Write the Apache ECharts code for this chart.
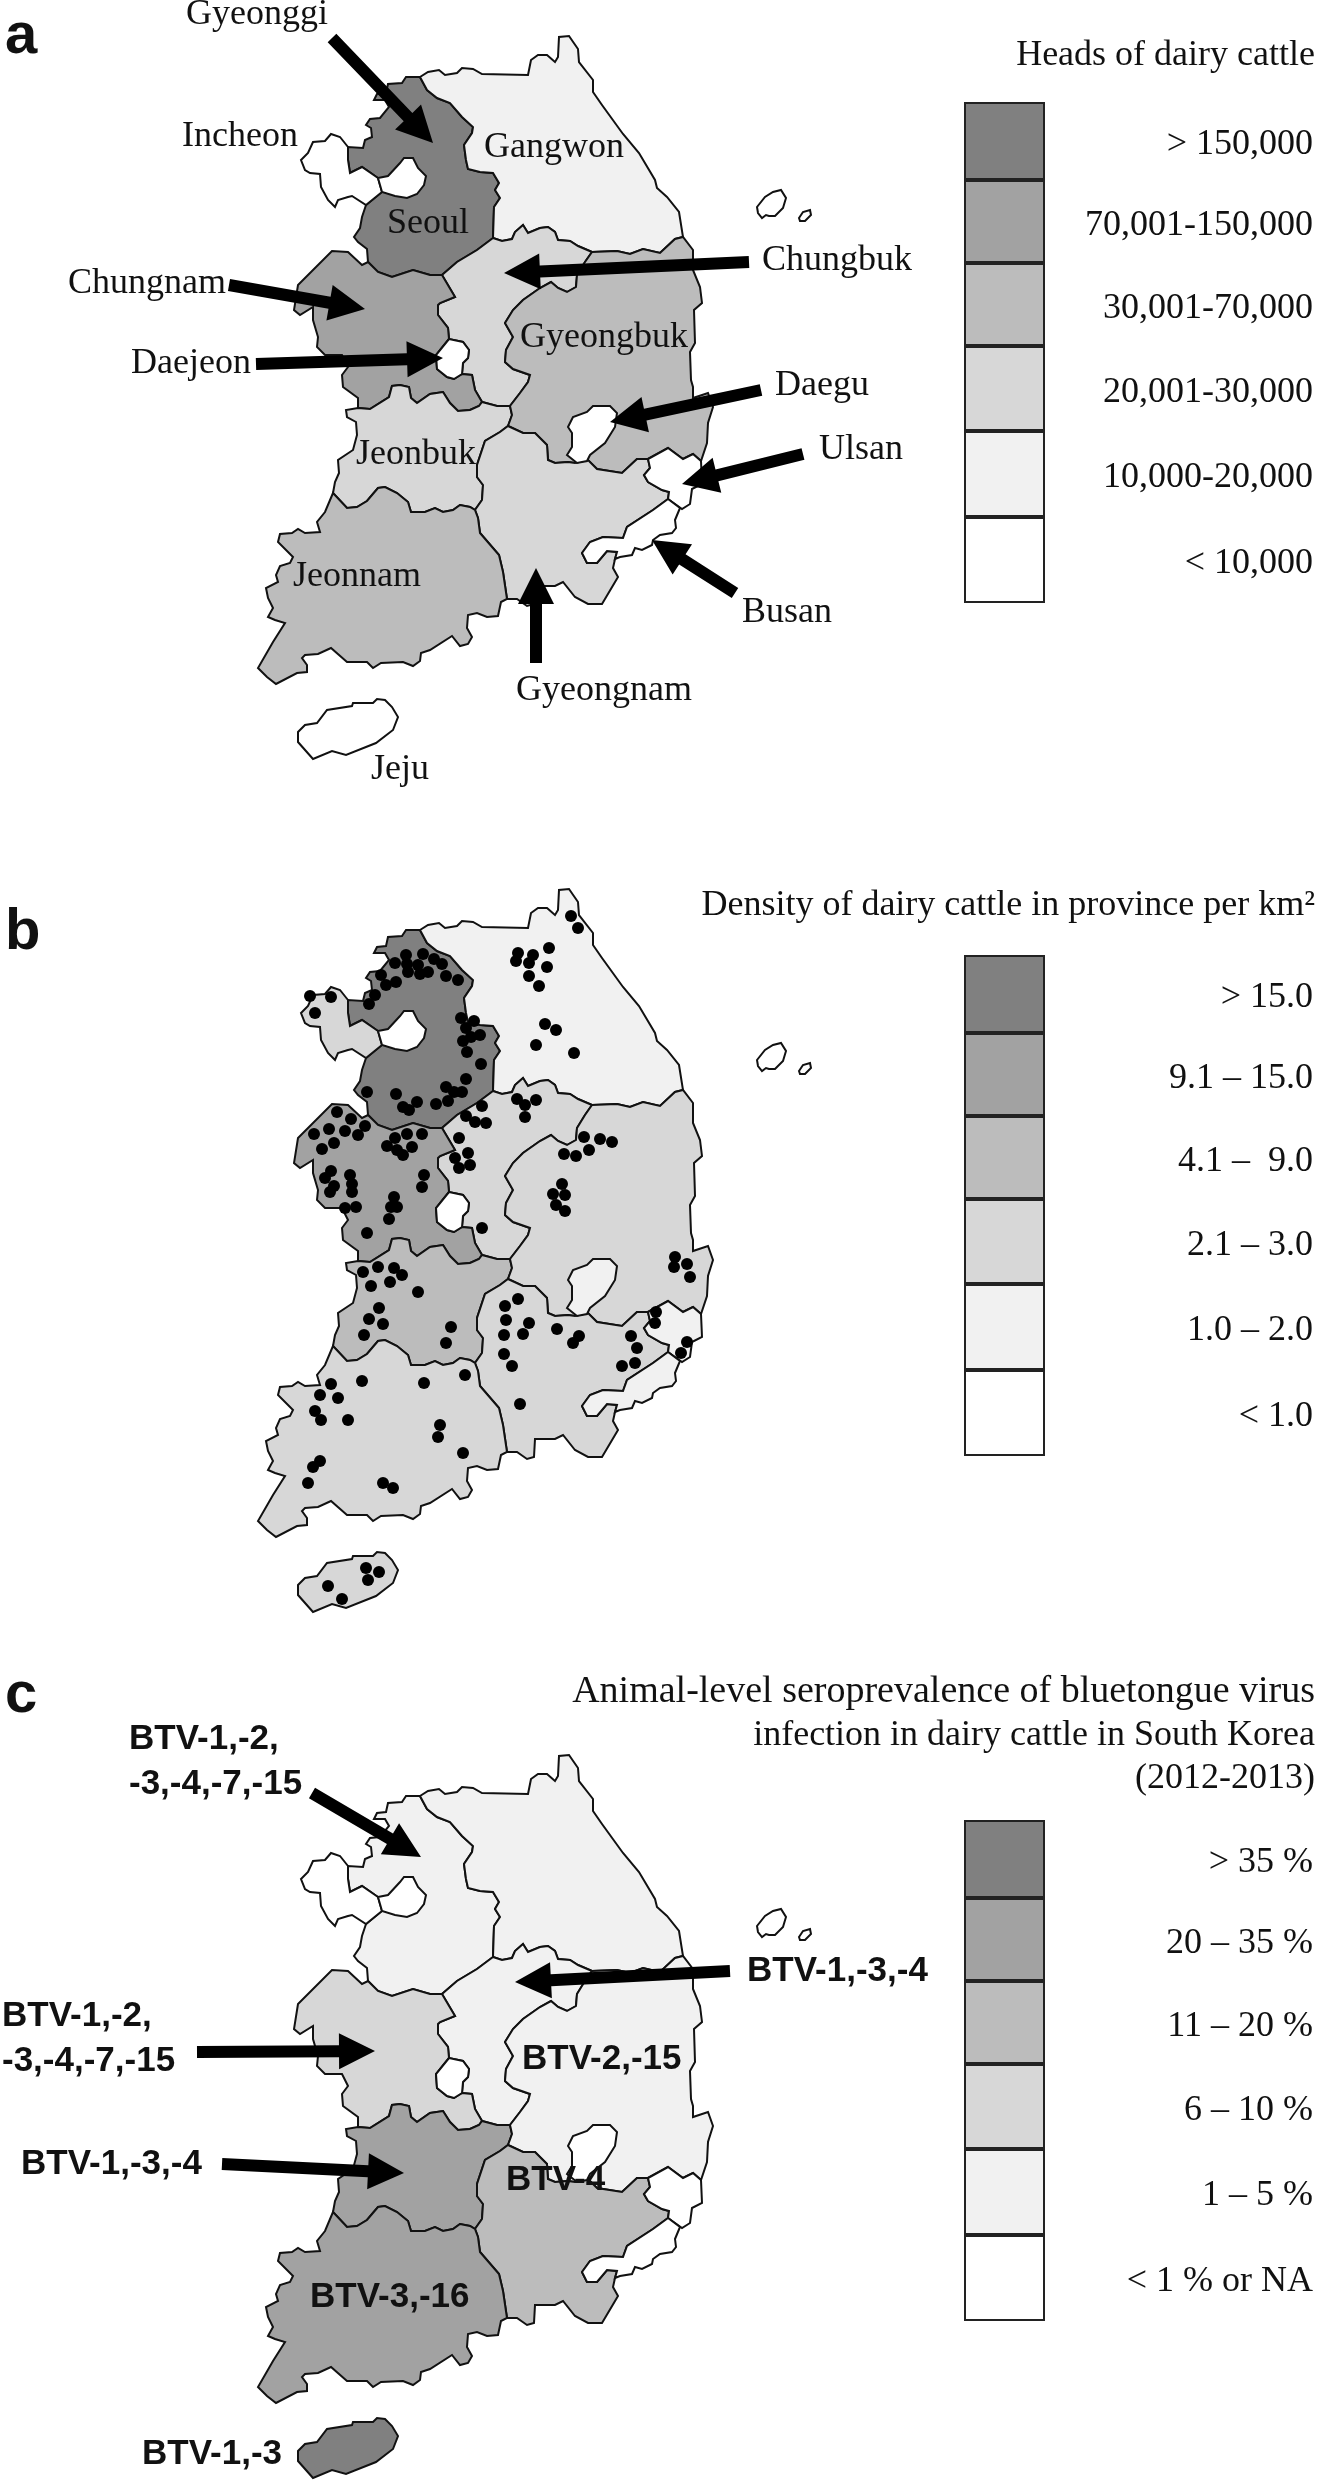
<!DOCTYPE html>
<html><head><meta charset="utf-8">
<script src="https://cdn.jsdelivr.net/npm/echarts@6/dist/echarts.min.js"></script>
<style>html,body{margin:0;padding:0;background:#fff}#c{width:1319px;height:2481px}</style>
</head><body><div id="c"></div>
<script>
// ---------- shared borders of the provinces, in map units (y grows southward) ----------
const ggGw=[[420,77],[427,90],[437,98],[450,103],[462,117],[473,127],[472,133],[464,145],[466,160],[468,169],[480,172],[493,173],[499,183],[495,190],[500,198],[494,207],[493,238]];
const ggCb=[[493,238],[477,250],[457,262],[442,275]];
const ggCn=[[442,275],[430,275],[413,270],[392,277],[378,272],[368,262]];
const ggCoast=[[368,262],[367,249],[358,242],[354,237],[360,228],[362,217],[366,205]];
const ggIc=[[366,205],[382,192],[378,178],[362,167],[350,173],[348,160],[348,147]];
const ggNorth=[[348,147],[363,148],[365,140],[372,137],[371,128],[366,125],[370,119],[380,118],[389,107],[385,100],[374,100],[377,94],[386,93],[388,84],[402,83],[406,77],[420,77]];
const seoulRing=[[378,178],[388,176],[400,163],[404,158],[413,158],[418,168],[426,176],[424,185],[417,194],[407,198],[395,196],[382,192]];
const icCoast=[[348,147],[340,137],[331,134],[325,141],[313,142],[308,153],[301,160],[305,170],[310,173],[320,174],[321,187],[328,200],[335,207],[338,200],[348,197],[352,196],[366,205]];
const gangwonCoast=[[420,77],[428,72],[439,70],[445,75],[457,73],[462,68],[473,69],[482,74],[528,75],[531,60],[538,55],[547,55],[555,62],[558,57],[559,37],[569,36],[578,49],[579,62],[593,80],[593,92],[602,105],[623,134],[639,153],[655,180],[657,188],[667,197],[679,212],[683,237]];
const gwGb=[[683,237],[675,239],[660,253],[643,249],[630,254],[617,251],[592,252]];
const gwCb=[[592,252],[578,246],[570,241],[558,240],[555,232],[548,227],[540,228],[528,233],[523,225],[515,232],[512,239],[502,241],[493,238]];
const cbGb=[[592,252],[585,262],[577,275],[576,287],[567,292],[558,288],[551,282],[540,288],[523,300],[513,310],[505,323],[513,337],[506,350],[505,362],[513,369],[530,375],[528,382],[520,393],[510,406]];
const cbSouth=[[510,406],[497,406],[482,402],[475,390],[472,375],[462,374]];
const djE=[[462,374],[463,363],[468,358],[469,350],[463,342],[449,339]];
const djW=[[449,339],[436,355],[437,369],[447,377],[454,379],[462,374]];
const cbCn=[[449,339],[448,328],[438,315],[438,305],[440,303],[455,297],[442,275]];
const cnJb=[[482,402],[479,406],[470,410],[458,411],[450,403],[443,392],[430,394],[417,403],[411,398],[409,387],[400,385],[392,386],[389,397],[370,409],[358,408]];
const cnCoast=[[358,408],[358,398],[343,387],[342,375],[348,367],[342,355],[325,355],[317,347],[318,337],[313,320],[313,307],[300,315],[294,310],[298,285],[332,251],[348,252],[362,265],[368,262]];
const jbGn=[[508,426],[500,432],[485,441],[477,465],[477,477],[483,485],[482,500],[475,510]];
const jbJn=[[475,510],[470,507],[460,505],[453,510],[443,512],[435,508],[425,512],[411,512],[408,502],[397,493],[385,487],[378,488],[367,501],[357,507],[347,508],[333,493]];
const jbCoast=[[333,493],[335,482],[339,473],[338,460],[353,450],[357,435],[356,422],[347,417],[346,410],[358,408]];
const jnCoast=[[333,493],[325,512],[317,522],[320,532],[305,533],[298,529],[292,533],[280,534],[278,542],[293,557],[290,563],[280,566],[276,575],[278,582],[266,588],[268,598],[273,608],[268,617],[275,620],[285,623],[273,642],[258,668],[267,677],[276,684],[297,673],[307,672],[307,665],[302,658],[305,655],[318,654],[331,648],[347,662],[367,662],[373,668],[381,663],[403,662],[413,666],[420,661],[421,653],[430,650],[452,636],[460,646],[468,644],[472,637],[467,628],[468,615],[477,613],[487,617],[498,616],[501,602],[507,599]];
const jnGn=[[507,599],[503,572],[499,555],[480,533],[478,518],[475,510]];
const gnNorth=[[508,426],[523,433],[535,433],[547,445],[548,460],[555,463],[568,462],[575,463],[588,460],[597,469],[622,473],[637,459],[648,459]];
const ulGn=[[648,459],[650,468],[644,475],[648,482],[662,490],[669,492],[668,499]];
const gnBusan=[[668,499],[653,510],[627,527],[623,538],[603,537],[590,542],[582,553],[587,563],[597,563],[607,551],[617,552],[615,559]];
const gnCoast=[[615,559],[613,568],[618,577],[602,604],[588,604],[575,597],[563,582],[555,586],[535,586],[534,604],[527,606],[517,599],[507,599]];
const busanCoast=[[615,559],[620,557],[632,555],[635,548],[642,550],[652,545],[653,540],[660,535],[672,533],[676,528],[675,520],[680,508],[668,499]];
const ulEast=[[648,459],[668,448],[683,459],[693,454],[701,461],[702,484],[692,489],[690,504],[682,509],[668,499]];
const gbCoast=[[683,237],[693,250],[693,270],[700,287],[702,303],[694,310],[695,343],[690,352],[691,380],[693,387],[693,398],[708,393],[713,407],[708,423],[707,443],[701,461]];
const daeguRing=[[568,427],[573,417],[587,412],[593,406],[610,406],[617,413],[615,427],[605,443],[590,455],[587,461],[577,463],[567,455],[572,447],[572,433]];
const jejuRing=[[298,732],[298,742],[313,759],[332,751],[346,755],[376,743],[393,730],[398,717],[392,707],[385,700],[377,699],[373,703],[353,703],[352,706],[327,710],[317,723],[305,725]];
const ulleungRing=[[757,207],[765,197],[773,192],[781,190],[786,198],[783,208],[775,216],[769,216],[766,215],[762,218],[758,213]];
const dokdoRing=[[799,218],[803,212],[810,210],[811,215],[805,221],[800,221]];

const rev=a=>a.slice().reverse();
const regionNames=['Gyeonggi','Incheon','Gangwon','Chungbuk','Chungnam','Jeonbuk','Gyeongbuk','Gyeongnam','Jeonnam','Jeju','Seoul','Daejeon','Daegu','Ulsan','Busan','Ulleung','Dokdo'];
const regionRings=[
 [...ggGw,...ggCb,...ggCn,...ggCoast,...ggIc,...ggNorth],
 [...icCoast,...ggIc],
 [...gangwonCoast,...gwGb,...gwCb,...rev(ggGw)],
 [...rev(gwCb),...cbGb,...cbSouth,...djE,...cbCn,...rev(ggCb)],
 [...rev(ggCn),...rev(cbCn),...djW,[472,375],[475,390],[482,402],...cnJb,...cnCoast],
 [...rev(cnJb),[497,406],[510,406],[512,415],[508,426],...jbGn,...jbJn,...jbCoast],
 [...rev(gwGb),...gbCoast,[693,454],[683,459],[668,448],...rev(gnNorth),[512,415],...rev(cbGb)],
 [...gnNorth,...ulGn,...gnBusan,...gnCoast,...jnGn,...rev(jbGn)],
 [...jnCoast,...jnGn,...jbJn],
 jejuRing,seoulRing,[...djW,...djE],daeguRing,[...ulEast,...rev(ulGn)],[...gnBusan,...busanCoast],ulleungRing,dokdoRing
];
// ---------- shading class of each province (0 = lightest row of the key … 5 = darkest) ----------
const headsClass  =[5,0,1,2,4,2,3,2,3,0,0,0,0,0,0,0,0];
const densityClass=[5,2,1,2,4,3,2,2,2,2,0,0,1,1,1,0,0];
const seroClass   =[1,0,1,1,2,4,1,3,4,5,0,0,0,0,0,0,0];
const greys=['#ffffff','#f1f1f1','#d7d7d7','#bcbcbc','#a2a2a2','#808080'];

// ---------- key ----------
const keyRowHeights=[78,83,83,85,86,86];
const headsKey=['> 150,000','70,001-150,000','30,001-70,000','20,001-30,000','10,000-20,000','< 10,000'];
const densityKey=['> 15.0','9.1 – 15.0','4.1 –  9.0','2.1 – 3.0','1.0 – 2.0','< 1.0'];
const seroKey=['> 35 %','20 – 35 %','11 – 20 %','6 – 10 %','1 – 5 %','< 1 % or NA'];
const panelOffsets=[0,853,1719];
const keyOffsets=[0,853,1718];

// ---------- farms (dots of panel b) ----------
const farms=[[571,63],[578,75],[549,95],[518,100],[533,102],[516,108],[529,110],[547,114],[529,123],[539,133],[545,171],[556,177],[536,192],[574,200],
[406,102],[423,101],[434,106],[395,110],[407,111],[418,112],[442,111],[408,119],[420,121],[428,119],[381,122],[446,123],[458,127],[396,129],[386,132],[375,142],[369,151],[461,165],[474,168],[466,175],[480,182],[471,184],[463,188],[467,199],[481,211],[466,226],[446,234],[454,239],[462,239],[396,241],[367,239],[448,248],[417,249],[436,251],[403,254],[409,257],
[310,143],[331,144],[315,160],
[482,253],[517,246],[536,247],[525,252],[525,264],[466,263],[475,269],[486,270],[459,285],[468,300],[455,305],[470,312],[459,315],[482,375],
[584,284],[600,286],[612,289],[589,297],[564,301],[576,303],[562,331],[553,341],[565,342],[556,352],[565,358],
[337,259],[351,266],[365,273],[329,276],[345,278],[358,282],[314,281],[334,290],[322,296],[395,285],[407,281],[422,281],[387,293],[412,294],[397,297],[403,302],[331,318],[325,325],[350,322],[334,333],[330,339],[352,331],[352,339],[424,322],[422,334],[394,344],[391,354],[397,354],[345,355],[356,354],[389,366],[367,380],
[363,419],[378,414],[394,415],[402,422],[371,433],[390,429],[418,439],[379,455],[369,466],[383,471],[364,482],[451,474],[446,490],
[331,531],[362,528],[424,530],[465,522],[320,542],[338,545],[315,558],[321,567],[348,567],[440,572],[438,584],[463,600],[320,608],[313,614],[308,630],[383,630],[393,635],
[518,446],[505,453],[506,467],[529,470],[504,482],[523,481],[557,476],[579,483],[573,490],[504,501],[512,513],[520,551],[631,483],[637,495],[635,510],[622,513],
[675,404],[674,414],[687,411],[690,424],[656,459],[655,470],[687,489],[681,500],
[366,715],[379,719],[368,727],[328,733],[342,746]];

// ---------- arrows: from tail to tip, map units ----------
const arrowsA=[[332,38,433,143],[749,262,504,273],[229,285,365,309],[256,364,443,358],[761,390,610,422],[803,454,682,484],[735,593,652,540],[536,663,536,568]];
const arrowsC=[[312,74,421,138],[197,333,375,332],[222,445,404,454],[730,252,515,263]];

// ---------- texts ----------
const serifLabels=[
['Gyeonggi',186,15,'left',36],['Incheon',182,137,'left',36],['Gangwon',484,148,'left',36],['Seoul',387,224,'left',36],['Chungnam',68,284,'left',36],['Chungbuk',762,261,'left',36],['Gyeongbuk',520,338,'left',36],['Daejeon',131,364,'left',36],['Daegu',775,386,'left',36],['Ulsan',819,450,'left',36],['Jeonbuk',356,455,'left',36],['Busan',742,613,'left',36],['Jeonnam',293,577,'left',36],['Gyeongnam',516,691,'left',36],['Jeju',371,770,'left',36],
['Heads of dairy cattle',1315,56,'right',36],['Density of dairy cattle in province per km²',1315,906,'right',36],
['Animal-level seroprevalence of bluetongue virus',1315,1692,'right',38],['infection in dairy cattle in South Korea',1315,1736,'right',36],['(2012-2013)',1315,1779,'right',36]];
const boldLabels=[['BTV-1,-2,',129,1739],['-3,-4,-7,-15',129,1784],['BTV-1,-2,',2,2016],['-3,-4,-7,-15',2,2061],['BTV-1,-3,-4',21,2164],['BTV-3,-16',310,2297],['BTV-1,-3',142,2454],['BTV-1,-3,-4',747,1971],['BTV-2,-15',522,2059],['BTV-4',506,2180]];
const panelLetters=[['a',5,37],['b',5,933],['c',5,1696]];

// ---------- build ----------
const flip=([x,y])=>[x,-y];
echarts.registerMap('korea',{type:'FeatureCollection',features:regionNames.map((name,i)=>({type:'Feature',properties:{name},geometry:{type:'Polygon',coordinates:[regionRings[i].map(flip)]}}))});
const allPts=regionRings.flat();
const minX=Math.min(...allPts.map(p=>p[0])),maxX=Math.max(...allPts.map(p=>p[0])),minY=Math.min(...allPts.map(p=>p[1])),maxY=Math.max(...allPts.map(p=>p[1]));

const geo=panelOffsets.map(off=>({map:'korea',roam:false,silent:true,aspectScale:1,left:minX,top:minY+off,width:maxX-minX,height:maxY-minY,
  itemStyle:{areaColor:'#fff',borderColor:'#111',borderWidth:2},label:{show:false},emphasis:{disabled:true},select:{disabled:true}}));

function arrowItem(params,api){
  const a=api.coord([api.value(0),api.value(1)]),b=api.coord([api.value(2),api.value(3)]);
  const dx=b[0]-a[0],dy=b[1]-a[1],len=Math.hypot(dx,dy),ux=dx/len,uy=dy/len,nx=-uy,ny=ux;
  const sh=6,hw=18,hl=36,bx=b[0]-ux*hl,by=b[1]-uy*hl;
  return {type:'polygon',shape:{points:[[a[0]+nx*sh,a[1]+ny*sh],[bx+nx*sh,by+ny*sh],[bx+nx*hw,by+ny*hw],b,[bx-nx*hw,by-ny*hw],[bx-nx*sh,by-ny*sh],[a[0]-nx*sh,a[1]-ny*sh]]},style:{fill:'#000'}};
}
const series=[],visualMap=[];
const classes=[headsClass,densityClass,seroClass];
classes.forEach((cls,i)=>{
  visualMap.push({type:'piecewise',show:false,seriesIndex:series.length,pieces:greys.map((color,v)=>({value:v,color}))});
  series.push({type:'map',geoIndex:i,silent:true,data:regionNames.map((name,k)=>({name,value:cls[k]}))});
});
series.push({type:'scatter',coordinateSystem:'geo',geoIndex:1,symbolSize:12,itemStyle:{color:'#000',opacity:1},silent:true,z:5,data:farms.map(flip)});
[[0,arrowsA],[2,arrowsC]].forEach(([g,arr])=>series.push({type:'custom',coordinateSystem:'geo',geoIndex:g,silent:true,z:6,renderItem:arrowItem,data:arr.map(a=>[a[0],-a[1],a[2],-a[3]])}));

const keyH=keyRowHeights.reduce((s,v)=>s+v,0);
const grid=[],xAxis=[],yAxis=[];
[headsKey,densityKey,seroKey].forEach((labels,i)=>{
  grid.push({left:964,width:81,top:102+keyOffsets[i],height:keyH,containLabel:false});
  xAxis.push({type:'category',gridIndex:i,data:['key'],show:false});
  yAxis.push({type:'value',gridIndex:i,inverse:true,min:0,max:keyH,show:false});
  labels.forEach((lab,k)=>series.push({type:'bar',name:lab,xAxisIndex:i,yAxisIndex:i,stack:'k'+i,barWidth:'100%',silent:true,data:[keyRowHeights[k]],
    itemStyle:{color:greys[5-k],borderColor:'#222',borderWidth:2},
    label:{show:true,position:[349,'50%'],offset:[0,4],align:'right',verticalAlign:'middle',formatter:lab,fontFamily:'Liberation Serif',fontSize:36,color:'#111'}}));
});
const txt=(text,x,y,align,font)=>({type:'text',x,y,z:100,silent:true,style:{text,font,fill:'#111',align,verticalAlign:'middle'}});
const graphic=[
 ...serifLabels.map(l=>txt(l[0],l[1],l[2],l[3],l[4]+'px "Liberation Serif"')),
 ...boldLabels.map(l=>txt(l[0],l[1],l[2],'left','bold 35px "Liberation Sans"')),
 ...panelLetters.map(l=>txt(l[0],l[1],l[2],'left','bold 58px "Liberation Sans"'))];

const chart=echarts.init(document.getElementById('c'),null,{renderer:'canvas'});
chart.setOption({animation:false,backgroundColor:'#fff',geo,visualMap,grid,xAxis,yAxis,series,graphic:{elements:graphic}});
</script></body></html>
